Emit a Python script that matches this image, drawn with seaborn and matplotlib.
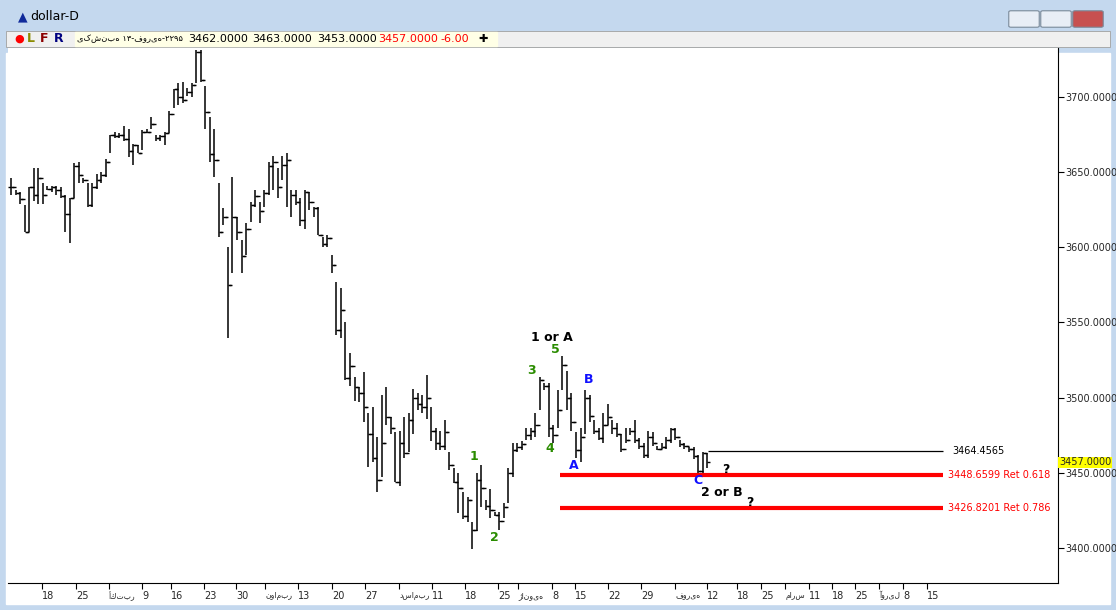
import matplotlib.pyplot as plt
import matplotlib.patches as mpatches
import numpy as np
import seaborn as sns

# daily bars (high, low, close)
highs = [3646, 3638, 3637, 3628, 3640, 3653, 3653, 3643, 3641, 3641, 3641, 3640, 3635, 3633, 3656, 3657,
         3646, 3643, 3643, 3649, 3650, 3659, 3675, 3677, 3676, 3681, 3679, 3669, 3668, 3678, 3679, 3687,
         3675, 3675, 3677, 3691, 3705, 3709, 3710, 3706, 3709, 3731, 3731, 3707, 3687, 3679, 3643, 3626,
         3600, 3647, 3620, 3605, 3616, 3630, 3638, 3630, 3638, 3657, 3661, 3653, 3661, 3663, 3638, 3638,
         3633, 3638, 3637, 3627, 3627, 3607, 3608, 3595, 3577, 3573, 3550, 3530, 3514, 3507, 3517, 3490,
         3494, 3474, 3502, 3507, 3487, 3477, 3478, 3487, 3490, 3506, 3503, 3502, 3515, 3494, 3480, 3478,
         3485, 3464, 3453, 3450, 3437, 3434, 3417, 3450, 3455, 3432, 3439, 3424, 3424, 3430, 3453, 3470,
         3470, 3471, 3480, 3480, 3490, 3514, 3510, 3510, 3482, 3505, 3528, 3518, 3503, 3477, 3480, 3505,
         3502, 3485, 3480, 3490, 3496, 3485, 3483, 3476, 3480, 3480, 3485, 3473, 3470, 3478, 3477, 3468,
         3470, 3474, 3480, 3480, 3472, 3470, 3467, 3467, 3462, 3464, 3463]
lows = [3635, 3635, 3629, 3610, 3610, 3631, 3629, 3629, 3638, 3637, 3635, 3633, 3610, 3603, 3633, 3643,
        3643, 3627, 3627, 3639, 3643, 3647, 3663, 3673, 3673, 3671, 3660, 3655, 3663, 3665, 3676, 3679,
        3671, 3671, 3668, 3676, 3693, 3695, 3696, 3701, 3700, 3709, 3710, 3679, 3657, 3647, 3607, 3615,
        3540, 3583, 3605, 3583, 3595, 3617, 3627, 3616, 3627, 3635, 3638, 3633, 3645, 3627, 3620, 3628,
        3614, 3612, 3625, 3620, 3608, 3600, 3600, 3583, 3542, 3540, 3512, 3508, 3498, 3497, 3484, 3454,
        3457, 3437, 3447, 3482, 3476, 3444, 3441, 3460, 3464, 3476, 3492, 3490, 3486, 3471, 3465, 3465,
        3465, 3452, 3443, 3423, 3419, 3417, 3399, 3411, 3427, 3425, 3420, 3421, 3412, 3420, 3430, 3447,
        3464, 3465, 3472, 3472, 3474, 3492, 3505, 3474, 3470, 3480, 3505, 3492, 3478, 3460, 3457, 3476,
        3484, 3476, 3472, 3470, 3482, 3476, 3474, 3464, 3470, 3475, 3470, 3466, 3460, 3460, 3468, 3465,
        3466, 3466, 3470, 3472, 3467, 3466, 3464, 3459, 3450, 3448, 3453]
closes = [3640, 3636, 3632, 3610, 3640, 3635, 3646, 3635, 3639, 3640, 3638, 3634, 3622, 3633, 3654, 3648,
          3645, 3628, 3640, 3645, 3648, 3657, 3675, 3674, 3675, 3672, 3664, 3668, 3663, 3677, 3677, 3682,
          3673, 3674, 3676, 3689, 3705, 3700, 3698, 3703, 3708, 3730, 3711, 3690, 3662, 3658, 3610, 3620,
          3575, 3620, 3610, 3594, 3612, 3628, 3634, 3624, 3636, 3654, 3657, 3640, 3655, 3658, 3635, 3630,
          3618, 3637, 3630, 3626, 3608, 3602, 3606, 3588, 3545, 3558, 3513, 3521, 3507, 3503, 3494, 3476,
          3460, 3445, 3470, 3487, 3480, 3444, 3470, 3463, 3485, 3500, 3496, 3494, 3500, 3478, 3470, 3468,
          3477, 3455, 3444, 3440, 3421, 3432, 3412, 3445, 3440, 3428, 3425, 3422, 3418, 3427, 3450, 3465,
          3467, 3469, 3475, 3478, 3482, 3512, 3508, 3480, 3475, 3492, 3522, 3500, 3484, 3465, 3474, 3500,
          3488, 3478, 3473, 3482, 3487, 3480, 3476, 3466, 3472, 3478, 3472, 3468, 3462, 3474, 3470, 3466,
          3467, 3472, 3479, 3474, 3469, 3468, 3466, 3461, 3451, 3463, 3457]
opens = [closes[0]] + closes[:-1]

# x axis: tick labels and their pixel position in the screenshot
tick_labels = ['18', '25', 'أكتبر', '9', '16', '23', '30', 'نوامبر', '13', '20', '27', 'دسامبر', '11',
               '18', '25', 'ژانویه', '8', '15', '22', '29', 'فوریه', '12', '18', '25', 'مارس', '11',
               '18', '25', 'آوریل', '8', '15']
tick_px = [42, 76, 109, 142, 171, 204, 236, 265, 298, 332, 365, 399, 432, 465, 498, 518, 552, 575,
           608, 641, 675, 707, 737, 761, 785, 809, 832, 855, 879, 903, 927]

y_ticks = [3400, 3450, 3500, 3550, 3600, 3650, 3700]
last_price = 3457.0
level_top = 3464.4565
fib_levels = [3448.6599, 3426.8201]
fib_names = ['Ret 0.618', 'Ret 0.786']

X0, DX = 11, 4.52  # screen pixel of first bar and bar spacing


def px(x):
    return (x - X0) / DX


sns.set_theme(style='white')
plt.rcParams['font.family'] = ['DejaVu Sans']

fig = plt.figure(figsize=(11.16, 6.10), dpi=100)
fig.patch.set_facecolor('#ffffff')

# window chrome
fig.add_artist(mpatches.Rectangle((0, 0), 1, 1, transform=fig.transFigure, color='#c4d8ee', zorder=-5))
fig.add_artist(mpatches.Rectangle((6 / 1116, 6 / 610), 1104 / 1116, 551 / 610,
                                  transform=fig.transFigure, color='white', zorder=-4))
fig.add_artist(mpatches.Rectangle((6 / 1116, 563 / 610), 1104 / 1116, 16 / 610,
                                  transform=fig.transFigure, color='#f0f0f0', ec='#a0a0a0', lw=0.6, zorder=-3))
fig.add_artist(mpatches.Rectangle((75 / 1116, 564 / 610), 422 / 1116, 14 / 610,
                                  transform=fig.transFigure, color='#ffffe6', zorder=-2))
fig.text(18 / 1116, 593 / 610, '▲', color='#102a9a', fontsize=9, va='center')
fig.text(30 / 1116, 593 / 610, 'dollar-D', color='black', fontsize=9, va='center')
for x, t, c in [(14, '●', 'red'), (27, 'L', '#8b8b00'), (40, 'F', '#8b0000'), (54, 'R', '#000080')]:
    fig.text(x / 1116, 571 / 610, t, color=c, fontsize=8 if t == '●' else 9, fontweight='bold', va='center')
hdr = [(77, 'یکشنبه ۱۳-فوریه-۲۲۹۵', 'black', 6), (188, '3462.0000', 'black', 8),
       (252, '3463.0000', 'black', 8), (317, '3453.0000', 'black', 8), (378, '3457.0000', 'red', 8),
       (440, '-6.00', 'red', 8), (478, '✚', 'black', 8)]
for x, t, c, fs in hdr:
    fig.text(x / 1116, 571 / 610, t, color=c, fontsize=fs, va='center')
for i, x in enumerate([1011, 1043, 1075]):
    fig.add_artist(mpatches.FancyBboxPatch((x / 1116, 584 / 610), 26 / 1116, 14 / 610,
                                           boxstyle='round,pad=0.002', transform=fig.transFigure,
                                           fc='#e8eef6' if i < 2 else '#c75050', ec='#7a8a9a', lw=0.8))

ax = fig.add_axes([8 / 1116, 27 / 610, 1050 / 1116, 535 / 610])
idx = np.arange(len(closes))
ax.vlines(idx, lows, highs, color='black', lw=1.1)
ax.hlines(opens, idx - 0.7, idx, color='black', lw=1.0)
ax.hlines(closes, idx, idx + 0.7, color='black', lw=1.0)

ax.set_xlim(px(8), px(1058))
ax.set_ylim(3376.7, 3732.6)

# levels
ax.hlines(level_top, px(708), px(943), color='black', lw=0.9)
ax.text(px(952), level_top, f'{level_top:.4f}', fontsize=7, va='center', color='black')
for lv, nm in zip(fib_levels, fib_names):
    ax.hlines(lv, px(560), px(943), color='#ff0000', lw=3)
    ax.text(px(948), lv, f'{lv:.4f} {nm}', fontsize=7, va='center', color='#ff0000')

# wave labels
green = '#2a8c00'
blue = '#1010ff'
labels = [(552, 3540, '1 or A', 'black'), (555, 3532, '5', green), (532, 3518, '3', green),
          (550, 3466, '4', green), (474, 3461, '1', green), (494, 3407, '2', green),
          (574, 3455, 'A', blue), (589, 3512, 'B', blue), (698, 3445, 'C', blue),
          (722, 3437, '2 or B', 'black'), (722, 3452, '?', 'black'), (746, 3430, '?', 'black')]
for x, y, t, c in labels:
    ax.text(px(x), y, t, color=c, fontsize=9, fontweight='bold', ha='left' if t == '?' else 'center',
            va='center')

# axes styling
ax.set_xticks([px(p) for p in tick_px])
ax.set_xticklabels(tick_labels, fontsize=7, ha='left')
for lab in ax.get_xticklabels():
    if not lab.get_text().isdigit():
        lab.set_fontsize(5.5)
ax.set_yticks(y_ticks)
ax.set_yticklabels([f'{v:.4f}' for v in y_ticks], fontsize=7)
ax.yaxis.tick_right()
ax.tick_params(axis='both', length=4, width=0.8, color='black', direction='out', pad=1, bottom=True, right=True)
ax.tick_params(axis='x', pad=2)
for s in ['left', 'top']:
    ax.spines[s].set_visible(False)
for s in ['right', 'bottom']:
    ax.spines[s].set_color('black')
    ax.spines[s].set_linewidth(0.8)
ax.text(1.001, last_price, f'{last_price:.4f}', transform=ax.get_yaxis_transform(), fontsize=7,
        va='center', ha='left', bbox=dict(fc='#ffff00', ec='none', pad=0.5))
ax.grid(False)

fig.savefig('out.png', dpi=100)
